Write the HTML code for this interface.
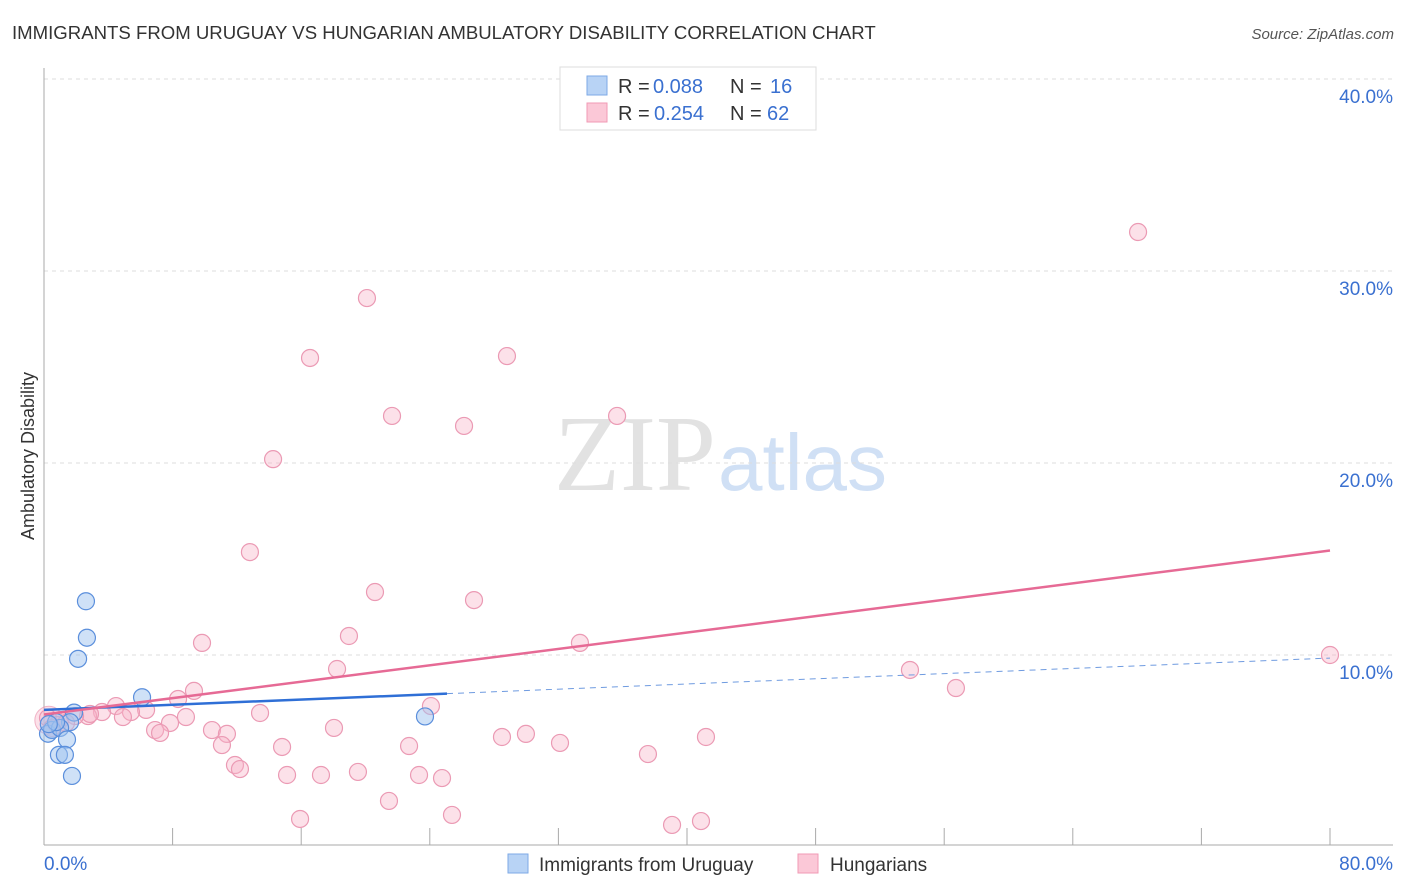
<!DOCTYPE html>
<html><head><meta charset="utf-8"><style>
body{margin:0;background:#fff;font-family:"Liberation Sans",sans-serif;}
svg{display:block}
</style></head><body>
<svg width="1406" height="892">
<text x="12" y="39" font-size="18.6" fill="#333">IMMIGRANTS FROM URUGUAY VS HUNGARIAN AMBULATORY DISABILITY CORRELATION CHART</text>
<text x="1394" y="39" font-size="15" fill="#555" font-style="italic" text-anchor="end">Source: ZipAtlas.com</text>
<text x="716" y="490" font-size="108" fill="#e2e2e2" text-anchor="end" font-family="Liberation Serif,serif">ZIP</text>
<text x="718" y="490" font-size="80" fill="#d0e0f5">atlas</text>
<g id="grid"></g>
<g id="axes"></g>
<g id="marks"></g>
<text transform="translate(34,456) rotate(-90)" font-size="18" fill="#333" text-anchor="middle">Ambulatory Disability</text>
<g>
<rect x="560" y="67" width="256" height="63" fill="#fff" stroke="#ddd"/>
<rect x="587" y="76" width="20" height="19" fill="#b8d3f5" stroke="#7ea9e6"/>
<rect x="587" y="103" width="20" height="19" fill="#fbc8d7" stroke="#f09ab4"/>
<text x="618" y="93" font-size="20" fill="#333">R =</text>
<text x="653" y="93" font-size="20" fill="#3a70d0">0.088</text>
<text x="730" y="93" font-size="20" fill="#333">N =</text>
<text x="770" y="93" font-size="20" fill="#3a70d0">16</text>
<text x="618" y="120" font-size="20" fill="#333">R =</text>
<text x="654" y="120" font-size="20" fill="#3a70d0">0.254</text>
<text x="730" y="120" font-size="20" fill="#333">N =</text>
<text x="767" y="120" font-size="20" fill="#3a70d0">62</text>
</g>
<g>
<rect x="508" y="854" width="20" height="19" fill="#b8d3f5" stroke="#7ea9e6"/>
<text x="539" y="871" font-size="19" fill="#333">Immigrants from Uruguay</text>
<rect x="798" y="854" width="20" height="19" fill="#fbc8d7" stroke="#f09ab4"/>
<text x="830" y="871" font-size="19" fill="#333">Hungarians</text>
</g>
</svg>
<script>
const yTicks=[10,20,30,40];
const yTickLabels=["10.0%","20.0%","30.0%","40.0%"];
const xTicks=[0,8,16,24,32,40,48,56,64,72,80];
const blueX=[2.61,2.67,2.12,6.1,23.7,1.87,1.62,0.25,0.5,1.0,1.43,0.93,1.3,1.74,0.75,0.3];
const blueY=[12.8,10.9,9.8,7.8,6.8,7.0,6.5,5.9,6.1,6.2,5.6,4.8,4.8,3.7,6.5,6.4];
const pinkX=[68.06,20.09,16.55,28.8,21.65,35.65,26.13,14.25,12.81,20.59,26.75,18.97,9.83,33.34,18.23,53.87,80,56.73,9.33,8.34,24.07,13.44,6.35,5.41,4.48,3.61,2.74,2.86,4.91,8.83,7.84,6.91,7.22,10.45,11.38,11.07,18.04,28.49,29.98,32.1,22.71,14.81,41.18,37.57,11.88,12.19,15.12,17.23,19.53,23.33,24.76,21.46,15.93,25.38,39.07,40.87,0.25,1.0,1.93,0.81,0.5,1.37];
const pinkY=[32.03,28.59,25.47,25.57,22.45,22.45,21.93,20.2,15.36,13.28,12.86,10.99,10.63,10.63,9.27,9.22,10.0,8.28,8.13,7.71,7.34,6.98,7.14,7.03,7.34,7.03,6.82,6.93,6.77,6.77,6.46,6.09,5.94,6.09,5.89,5.31,6.2,5.73,5.89,5.42,5.26,5.21,5.73,4.84,4.27,4.06,3.75,3.75,3.91,3.75,3.59,2.4,1.46,1.67,1.15,1.35,6.72,6.61,6.82,6.35,6.2,6.46];
const pinkTrend=[6.9,15.44];
const blueTrend=[7.14,9.84];
const blueSolidEnd=25.07;
const NS="http://www.w3.org/2000/svg";
const sx=v=>44+v*16.075, sy=v=>847-v*19.2;
function mk(p,t,a){const e=document.createElementNS(NS,t);for(const k in a)e.setAttribute(k,a[k]);p.appendChild(e);return e;}
const grid=document.getElementById('grid'),axes=document.getElementById('axes'),marks=document.getElementById('marks');
yTicks.forEach((v,i)=>{
 const l=mk(grid,'line',{x1:44,x2:1393,y1:sy(v),y2:sy(v),stroke:'#ddd','stroke-dasharray':'4,4'});
 
 
 const t=mk(axes,'text',{x:1393,y:sy(v)+24,'font-size':19,fill:'#3a70d0','text-anchor':'end'});t.textContent=yTickLabels[i];
 
 
});
const ya=mk(axes,'line',{x1:44,x2:44,y1:68,y2:845,stroke:'#aaa'});


const xa=mk(axes,'line',{x1:44,x2:1393,y1:845,y2:845,stroke:'#aaa'});


xTicks.forEach(v=>{const t=mk(axes,'line',{x1:sx(v),x2:sx(v),y1:828,y2:845,stroke:'#aaa'});
 
 });
const xl0=mk(axes,'text',{x:44,y:870,'font-size':19,fill:'#3a70d0'});xl0.textContent='0.0%';


const xl1=mk(axes,'text',{x:1393,y:870,'font-size':19,fill:'#3a70d0','text-anchor':'end'});xl1.textContent='80.0%';


const big=mk(marks,'circle',{cx:sx(0.3),cy:sy(6.6),r:14,fill:'rgba(248,180,200,0.4)',stroke:'rgba(232,138,168,0.6)'});


pinkX.forEach((x,i)=>{const c=mk(marks,'circle',{cx:sx(x),cy:sy(pinkY[i]),r:8.5,fill:'rgba(248,180,200,0.4)',stroke:'#eb9ab4','stroke-width':1.2});
 
 });
blueX.forEach((x,i)=>{const c=mk(marks,'circle',{cx:sx(x),cy:sy(blueY[i]),r:8.5,fill:'rgba(160,196,240,0.5)',stroke:'#5b8fdc','stroke-width':1.2});
 
 });
const bAt=x=>blueTrend[0]+(blueTrend[1]-blueTrend[0])*x/80;
const bs=mk(marks,'line',{x1:sx(0),y1:sy(bAt(0)),x2:sx(blueSolidEnd),y2:sy(bAt(blueSolidEnd)),stroke:'#2f6fd6','stroke-width':2.5});


const bd=mk(marks,'line',{x1:sx(blueSolidEnd),y1:sy(bAt(blueSolidEnd)),x2:sx(80),y2:sy(bAt(80)),stroke:'#6f9be0','stroke-width':1,'stroke-dasharray':'6,5'});


const pl=mk(marks,'line',{x1:sx(0),y1:sy(pinkTrend[0]),x2:sx(80),y2:sy(pinkTrend[1]),stroke:'#e66a95','stroke-width':2.5});


</script>
</body></html>
